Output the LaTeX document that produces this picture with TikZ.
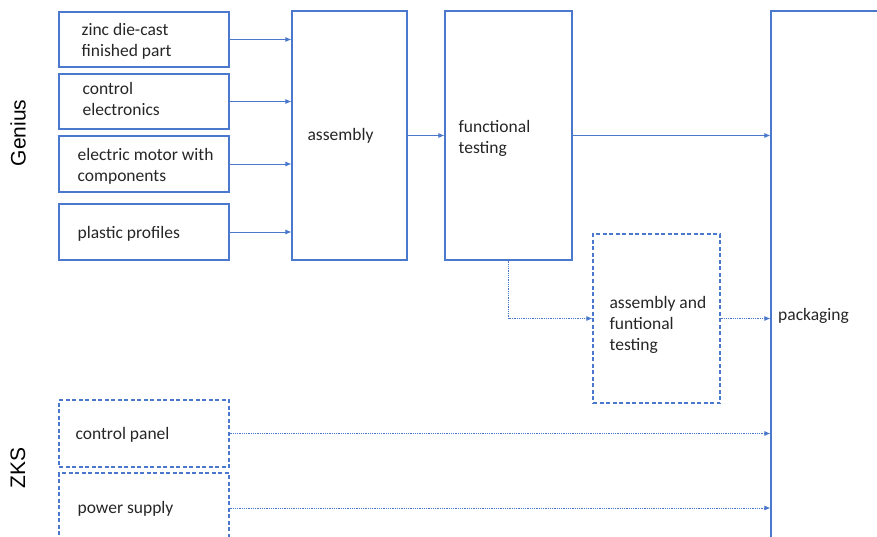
\documentclass[tikz,border=0pt]{standalone}
\usepackage{fontspec}
\setmainfont{Carlito}
\newfontfamily\lanefont{Liberation Sans}
\usetikzlibrary{arrows.meta, positioning}
\definecolor{flowblue}{HTML}{4A78CC}
\begin{document}
\begin{tikzpicture}[
  x=1pt, y=-1pt,
  font=\fontsize{17.5}{21}\selectfont,
  block/.style={draw=flowblue, line width=1.2pt, rectangle, inner sep=0pt},
  plan/.style={block, dashed, dash pattern=on 4pt off 2.5pt},
  txt/.style={inner sep=0pt, align=left, text=black!85},
  flow/.style={draw=flowblue, line width=0.8pt, -{Latex[length=6pt,width=5pt]}},
  later/.style={flow, densely dotted}]

  \useasboundingbox (0,0) rectangle (877,537);

  \node[block, minimum width=170pt, minimum height=55pt] (zinc) at (144,39.5) {};
  \node[block, minimum width=170pt, minimum height=55pt] (elec) at (144,101.5) {};
  \node[block, minimum width=170pt, minimum height=56pt] (motor) at (144,164) {};
  \node[block, minimum width=170pt, minimum height=56pt] (plastic) at (144,232) {};
  \node[block, minimum width=115pt, minimum height=249pt] (asm) at (349.5,135.5) {};
  \node[block, minimum width=127pt, minimum height=249pt] (ftest) at (508.5,135.5) {};
  \node[plan, minimum width=127pt, minimum height=169pt] (aftest) at (656.5,318.5) {};
  \node[block, minimum width=140pt, minimum height=560pt] (pack) at (841,291) {};
  \node[plan, minimum width=170pt, minimum height=67pt] (panel) at (144,433.5) {};
  \node[plan, minimum width=170pt, minimum height=70pt] (power) at (144,508) {};

  \node[txt, right=23pt of zinc.west, yshift=-2pt] (zinctxt) {zinc die-cast\\finished part};
  \node[txt, right=24pt of elec.west, yshift=3pt] (electxt) {control\\electronics};
  \node[txt, right=19pt of motor.west, yshift=-2pt] (motortxt) {electric motor with\\components};
  \node[txt, right=19pt of plastic.west, yshift=-2pt] (plastictxt) {plastic profiles};
  \node[txt, right=16pt of asm.west] (asmtxt) {assembly};
  \node[txt, right=14pt of ftest.west, yshift=-3pt] (ftesttxt) {functional\\testing};
  \node[txt, right=17pt of aftest.west, yshift=-6pt] (aftesttxt) {assembly and\\funtional\\testing};
  \node[txt, anchor=west] (packtxt) at (778,316) {packaging};
  \node[txt, right=17pt of panel.west, yshift=-1pt] (paneltxt) {control panel};
  \node[txt, right=19pt of power.west, yshift=-1pt] (powertxt) {power supply};

  \node[rotate=90, font=\lanefont\fontsize{21}{25}\selectfont] (genius) at (18,133) {Genius};
  \node[rotate=90, font=\lanefont\fontsize{21}{25}\selectfont] (zks) at (18,468) {ZKS};

  \foreach \part in {zinc, elec, motor, plastic}
    \draw[flow] (\part.east) -- (\part.east -| asm.west);
  \draw[flow] (asm.east) -- (ftest.west);
  \draw[flow] (ftest.east) -- (ftest.east -| pack.west);
  \draw[later] (ftest.south) |- (aftest.west);
  \draw[later] (aftest.east) -- (aftest.east -| pack.west);
  \draw[later] (panel.east) -- (panel.east -| pack.west);
  \draw[later] (power.east) -- (power.east -| pack.west);
\end{tikzpicture}
\end{document}
